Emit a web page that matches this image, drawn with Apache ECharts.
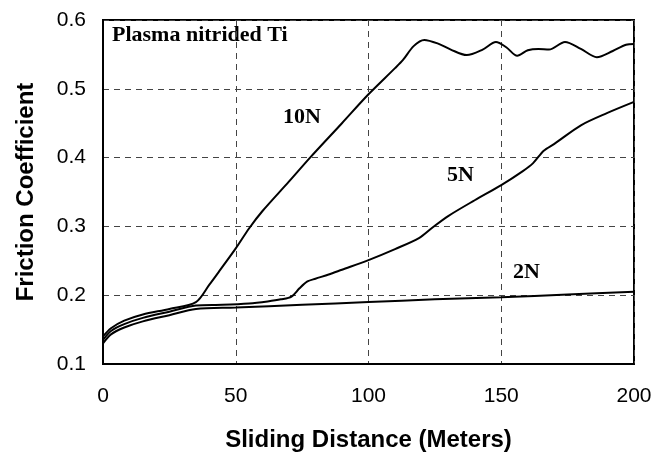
<!DOCTYPE html>
<html>
<head>
<meta charset="utf-8">
<script src="https://cdn.jsdelivr.net/npm/echarts@6/dist/echarts.min.js"></script>
<style>
  html, body { margin: 0; padding: 0; background: #fff; }
  #chart { width: 664px; height: 453px; }
</style>
</head>
<body>
<div id="chart"></div>
<script>
// sliding distance (m) / friction coefficient
var x10N = [0, 3, 8, 15, 25, 35, 40, 44, 50, 55, 60, 70, 78, 90, 100, 110, 113, 117, 121, 126, 131, 137, 143, 148, 152, 156, 160, 164, 168, 174, 180, 186, 192, 197, 200];
var y10N = [0.14, 0.152, 0.163, 0.172, 0.18, 0.19, 0.215, 0.236, 0.268, 0.297, 0.322, 0.365, 0.4, 0.45, 0.492, 0.53, 0.542, 0.562, 0.571, 0.566, 0.557, 0.549, 0.557, 0.568, 0.56, 0.548, 0.556, 0.558, 0.557, 0.568, 0.558, 0.546, 0.555, 0.564, 0.565];

var x5N = [0, 3, 8, 15, 25, 35, 45, 55, 62, 67, 71, 74, 77, 80, 85, 90, 100, 110, 119, 124, 130, 140, 150, 158, 162, 166, 170, 180, 190, 200];
var y5N = [0.135, 0.148, 0.158, 0.167, 0.176, 0.185, 0.186, 0.188, 0.191, 0.194, 0.198, 0.21, 0.22, 0.224, 0.23, 0.237, 0.251, 0.267, 0.283, 0.298, 0.315, 0.338, 0.36, 0.38, 0.392, 0.41, 0.42, 0.447, 0.465, 0.481];

var x2N = [0, 3, 8, 15, 25, 35, 50, 75, 100, 125, 150, 175, 200];
var y2N = [0.13, 0.143, 0.153, 0.162, 0.171, 0.18, 0.182, 0.186, 0.19, 0.194, 0.197, 0.201, 0.205];

var xTicks = [0, 50, 100, 150, 200];
var yTicks = [0.1, 0.2, 0.3, 0.4, 0.5, 0.6];

function pairs(xs, ys) {
  var out = [];
  for (var i = 0; i < xs.length; i++) out.push([xs[i], ys[i]]);
  return out;
}

var chart = echarts.init(document.getElementById('chart'), null, { renderer: 'canvas' });

var lineStyle = { color: '#000', width: 2 };
var dashed = { show: true, lineStyle: { color: '#444', type: [6, 5], width: 1 } };
var serifBold = { fontFamily: 'Liberation Serif', fontWeight: 'bold', fill: '#000', fontSize: 22 };

var option = {
  animation: false,
  backgroundColor: '#fff',
  grid: {
    left: 103, right: 30, top: 20, bottom: 89,
    containLabel: false, outerBoundsMode: 'none',
    show: true, borderColor: '#000', borderWidth: 2, backgroundColor: 'transparent'
  },
  xAxis: {
    type: 'value', min: xTicks[0], max: xTicks[xTicks.length - 1], interval: 50,
    name: 'Sliding Distance (Meters)', nameLocation: 'middle', nameGap: 64,
    nameTextStyle: { fontFamily: 'Liberation Sans', fontWeight: 'bold', fontSize: 24, color: '#000' },
    axisLine: { show: true, lineStyle: { color: '#000', width: 2 } },
    axisTick: { show: false },
    axisLabel: { margin: 22, fontFamily: 'Liberation Sans', fontSize: 21, color: '#000' },
    splitLine: dashed
  },
  yAxis: {
    type: 'value', min: yTicks[0], max: yTicks[yTicks.length - 1], interval: 0.1,
    name: 'Friction Coefficient', nameLocation: 'middle', nameGap: 65,
    nameTextStyle: { fontFamily: 'Liberation Sans', fontWeight: 'bold', fontSize: 24, color: '#000' },
    axisLine: { show: true, lineStyle: { color: '#000', width: 2 } },
    axisTick: { show: false },
    axisLabel: {
      margin: 17, fontFamily: 'Liberation Sans', fontSize: 21, color: '#000',
      formatter: function (v) { return v.toFixed(1); }
    },
    splitLine: dashed
  },
  series: [
    { name: '10N', type: 'line', data: pairs(x10N, y10N), smooth: 0.3, showSymbol: false, lineStyle: lineStyle },
    { name: '5N', type: 'line', data: pairs(x5N, y5N), smooth: 0.3, showSymbol: false, lineStyle: lineStyle },
    { name: '2N', type: 'line', data: pairs(x2N, y2N), smooth: 0.3, showSymbol: false, lineStyle: lineStyle }
  ],
  graphic: [
    { type: 'text', left: 112, top: 24, style: Object.assign({ text: 'Plasma nitrided Ti' }, serifBold) },
    { type: 'text', left: 283, top: 106, style: Object.assign({ text: '10N' }, serifBold) },
    { type: 'text', left: 447, top: 164, style: Object.assign({ text: '5N' }, serifBold) },
    { type: 'text', left: 513, top: 261, style: Object.assign({ text: '2N' }, serifBold) }
  ]
};

chart.setOption(option);
</script>
</body>
</html>
